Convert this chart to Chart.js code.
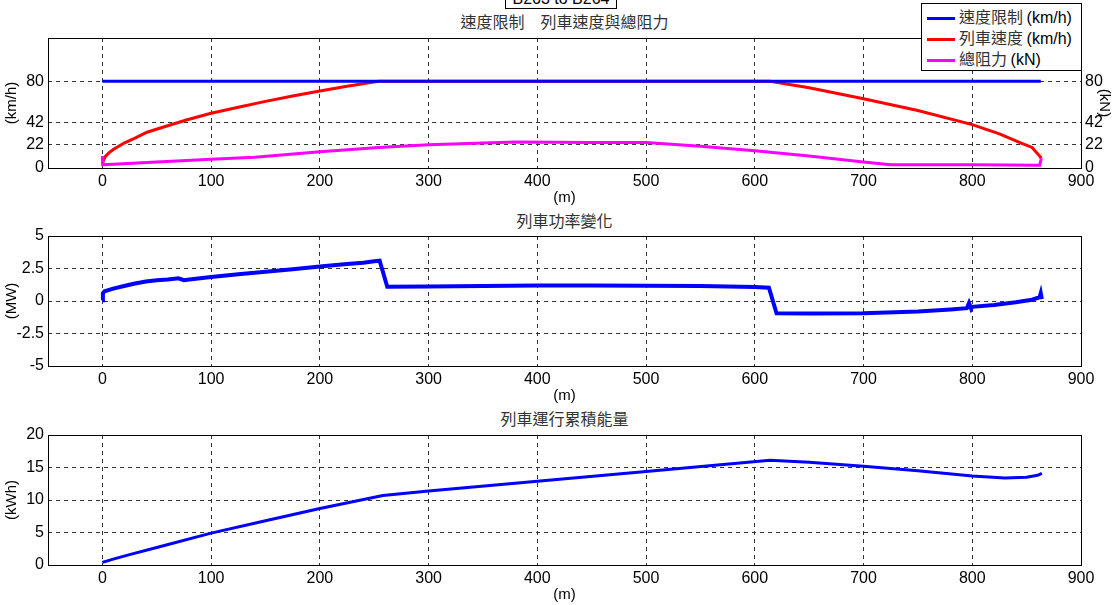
<!DOCTYPE html>
<html>
<head>
<meta charset="utf-8">
<script src="https://cdn.jsdelivr.net/npm/chart.js@4/dist/chart.umd.min.js"></script>
<style>
  body { margin: 0; background: #fff; }
  #wrap { position: relative; width: 1116px; height: 605px; overflow: hidden; }
  #wrap canvas { position: absolute; left: 0; }
  .titulo { position: absolute; left: 48px; width: 1033px; text-align: center;
            font-family: 'Noto Sans CJK TC', sans-serif; font-size: 16px; color: #333; line-height: 18px; }
  #caixa { position: absolute; left: 505px; top: -12px; width: 110px; height: 19px; border: 1px solid #000;
           background: #fff; font-family: 'Liberation Sans', Arial, sans-serif; font-size: 16px; text-align: center; line-height: 19px; }
  #legenda { position: absolute; left: 921px; top: 3px; width: 159px; height: 66px; border: 1px solid #000;
             background: #fff; font-family: 'Noto Sans CJK TC', 'Liberation Sans', sans-serif; font-size: 16px; color: #333; }
  #legenda div { position: absolute; left: 5px; height: 20px; line-height: 20px; white-space: nowrap; }
  #legenda span.linha { display: inline-block; width: 28px; height: 3px; vertical-align: middle; margin-right: 4px; }
  #legenda span.un { font-family: 'Liberation Sans', Arial, sans-serif; color: #000; }
</style>
</head>
<body>
<div id="wrap">
  <div id="caixa">B263 to B264</div>
  <div class="titulo" style="top:12px">速度限制　列車速度與總阻力</div>
  <div class="titulo" style="top:211px">列車功率變化</div>
  <div class="titulo" style="top:409px">列車運行累積能量</div>
  <canvas id="g1" width="1116" height="178" style="top:30px"></canvas>
  <canvas id="g2" width="1116" height="180" style="top:226px"></canvas>
  <canvas id="g3" width="1116" height="180" style="top:425px"></canvas>
  <div id="legenda"></div>
</div>
<script>
// eixo x (m)
const xTicks = [0, 100, 200, 300, 400, 500, 600, 700, 800, 900];

// painel 1: velocidade / resistencia
const vTicks = [0, 22, 42, 80];
const limiteX = [0, 863];
const limiteV = [80, 80];
const tremX = [0, 1, 3, 6, 10, 20, 30, 41, 60, 78, 100, 125, 150, 175, 200, 225, 254, 614, 650, 700, 750, 800, 825, 845, 855, 862, 863.5];
const tremV = [3, 7, 11, 14, 17, 23, 27.5, 33, 39, 44.5, 50.5, 56, 61.5, 66.5, 71, 75.5, 80, 80, 74, 64, 53, 40, 31.5, 23, 19, 11, 9];
const resistX = [0, 0.4, 10, 50, 100, 140, 200, 254, 300, 350, 380, 450, 500, 550, 600, 650, 700, 725, 800, 862, 863.5];
const resistF = [11, 3, 3.5, 5.5, 8, 10, 15, 19, 21.5, 23, 24, 23.5, 23.5, 20, 16, 11, 5.5, 3, 3, 2.5, 9];

// painel 2: potencia (MW)
const potTicks = [-5, -2.5, 0, 2.5, 5];
const potX = [0, 0.5, 2, 10, 20, 30, 40, 50, 60, 70, 75, 80, 90, 100, 125, 150, 175, 200, 225, 240, 250, 255, 262, 300, 350, 400, 450, 500, 550, 600, 613, 620, 650, 700, 750, 780, 795, 797, 799, 800, 820, 840, 855, 862, 863, 864];
const potP = [0.05, 0.6, 0.75, 0.95, 1.15, 1.35, 1.5, 1.6, 1.65, 1.75, 1.6, 1.65, 1.75, 1.85, 2.05, 2.25, 2.45, 2.65, 2.85, 2.95, 3.05, 3.1, 1.1, 1.12, 1.15, 1.2, 1.2, 1.18, 1.15, 1.08, 1.02, -0.95, -0.97, -0.95, -0.8, -0.65, -0.55, -0.15, -0.6, -0.45, -0.3, -0.1, 0.1, 0.3, 0.6, 0.15];

// painel 3: energia acumulada (kWh)
const enTicks = [0, 5, 10, 15, 20];
const enX = [0, 10, 25, 50, 100, 150, 200, 258, 300, 400, 500, 614, 650, 700, 750, 800, 830, 850, 860, 864];
const enE = [0.4, 0.9, 1.6, 2.7, 4.9, 6.8, 8.7, 10.7, 11.4, 12.9, 14.4, 16.1, 15.8, 15.2, 14.5, 13.7, 13.4, 13.5, 13.8, 14.1];

const nomes = ['速度限制', '列車速度', '總阻力'];
const unidades = ['(km/h)', '(km/h)', '(kN)'];
const cores = ['#0000ff', '#ff0000', '#ff00ff'];

Chart.defaults.font.family = "'Liberation Sans', Arial, sans-serif";
Chart.defaults.font.size = 16;
Chart.defaults.color = '#000';

function pontos(xs, ys) {
  return xs.map((x, i) => ({ x: x, y: ys[i] }));
}

const caixaPlugin = {
  id: 'caixa',
  afterDraw(chart) {
    const a = chart.chartArea, c = chart.ctx;
    c.save();
    c.strokeStyle = '#000';
    c.lineWidth = 1;
    c.strokeRect(Math.round(a.left) + 0.5, Math.round(a.top) + 0.5, Math.round(a.right - a.left), Math.round(a.bottom - a.top));
    c.restore();
  }
};

function eixoX() {
  return {
    type: 'linear', min: -50, max: 900,
    afterBuildTicks: s => { s.ticks = xTicks.map(v => ({ value: v })); },
    afterFit: s => { s.height = 40; },
    ticks: { padding: 4, autoSkip: false },
    grid: { color: '#333', lineWidth: 1, drawTicks: false },
    border: { display: false, dash: [4, 4] },
    title: { display: true, text: '(m)', font: { size: 15 }, padding: { top: 0, bottom: 1 } }
  };
}

function eixoY(min, max, lista, titulo, pos, grade) {
  return {
    type: 'linear', position: pos, min: min, max: max,
    afterBuildTicks: s => { s.ticks = lista.map(v => ({ value: v })); },
    afterFit: s => {
      s.width = pos === 'left' ? 48 : 35;
      s.paddingTop = 0;
      s.paddingBottom = 0;
    },
    ticks: { padding: 4, autoSkip: false },
    grid: { display: grade, color: '#333', lineWidth: 1, drawTicks: false },
    border: { display: false, dash: [4, 4] },
    title: { display: true, text: titulo, font: { size: 15 }, padding: { top: 3, bottom: 0 } }
  };
}

function linha(dados, cor, larg, eixo) {
  const d = { data: dados, borderColor: cor, backgroundColor: cor, borderWidth: larg,
              pointRadius: 0, tension: 0, fill: false };
  if (eixo) d.yAxisID = eixo;
  return d;
}

function criarPainel(id, datasets, scales, padRight) {
  return new Chart(document.getElementById(id), {
    type: 'line',
    data: { datasets: datasets },
    options: {
      responsive: false,
      animation: false,
      parsing: false,
      layout: { padding: { top: id === 'g1' ? 8 : 10, right: padRight, left: 0, bottom: 0 } },
      plugins: { legend: { display: false }, title: { display: false }, tooltip: { enabled: false } },
      scales: scales
    },
    plugins: [caixaPlugin]
  });
}

criarPainel('g1', [
  linha(pontos(resistX, resistF), cores[2], 3, 'y2'),
  linha(pontos(limiteX, limiteV), cores[0], 3, 'y'),
  linha(pontos(tremX, tremV), cores[1], 3, 'y')
], {
  x: eixoX(),
  y: eixoY(0, 120, vTicks, '(km/h)', 'left', true),
  y2: eixoY(0, 120, vTicks, '(kN)', 'right', false)
}, 0);

criarPainel('g2', [
  linha(pontos(potX, potP), '#0000ff', 4)
], {
  x: eixoX(),
  y: eixoY(-5, 5, potTicks, '(MW)', 'left', true)
}, 35);

criarPainel('g3', [
  linha(pontos(enX, enE), '#0000ff', 3)
], {
  x: eixoX(),
  y: eixoY(0, 20, enTicks, '(kWh)', 'left', true)
}, 35);

// legenda
const legenda = document.getElementById('legenda');
nomes.forEach((n, i) => {
  const item = document.createElement('div');
  item.style.top = (2 + i * 21) + 'px';
  item.innerHTML = `<span class="linha" style="background:${cores[i]}"></span>${n} <span class="un">${unidades[i]}</span>`;
  legenda.appendChild(item);
});
</script>
</body>
</html>
